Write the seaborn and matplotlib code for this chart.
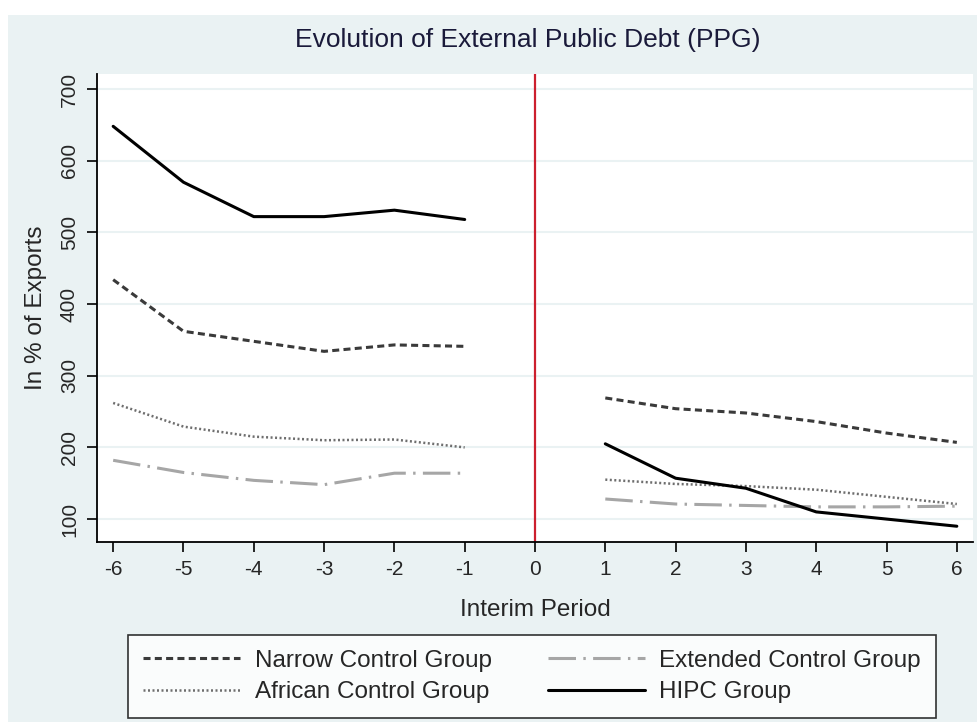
import matplotlib
matplotlib.use("Agg")
import matplotlib.pyplot as plt
from matplotlib.patches import Rectangle
from matplotlib.lines import Line2D
import seaborn as sns
import pandas as pd

periods_pre = [-6, -5, -4, -3, -2, -1]
periods_post = [1, 2, 3, 4, 5, 6]

narrow_pre = [434, 362, 348, 334, 343, 341]
narrow_post = [269, 254, 248, 236, 220, 207]
african_pre = [262, 229, 215, 210, 211, 200]
african_post = [155, 149, 146, 141, 131, 121]
extended_pre = [182, 165, 154, 148, 164, 164]
extended_post = [128, 121, 119, 117, 117, 118]
hipc_pre = [648, 570, 522, 522, 531, 518]
hipc_post = [205, 157, 143, 110, 100, 90]

series_names = ["Narrow Control Group", "African Control Group",
                "Extended Control Group", "HIPC Group"]
yticks = [100, 200, 300, 400, 500, 600, 700]
xticks = [-6, -5, -4, -3, -2, -1, 0, 1, 2, 3, 4, 5, 6]

rows = []
for name, pre, post in [
    (series_names[0], narrow_pre, narrow_post),
    (series_names[1], african_pre, african_post),
    (series_names[2], extended_pre, extended_post),
    (series_names[3], hipc_pre, hipc_post),
]:
    for x, y in zip(periods_pre, pre):
        rows.append({"series": name, "period": x, "value": y, "segment": "pre"})
    for x, y in zip(periods_post, post):
        rows.append({"series": name, "period": x, "value": y, "segment": "post"})
df = pd.DataFrame(rows)

sns.set_style("white")
plt.rcParams["font.family"] = ["Liberation Sans", "DejaVu Sans"]

BG = "#EAF2F3"
colors = {series_names[0]: "#3a3a3a", series_names[1]: "#6e6e6e",
          series_names[2]: "#a6a6a6", series_names[3]: "#000000"}
dashes = {series_names[0]: (2.3, 1.4), series_names[1]: (0.8, 1.0),
          series_names[2]: (9, 2.4, 0.8, 2.4), series_names[3]: ""}
widths = {series_names[0]: 2.2, series_names[1]: 1.8,
          series_names[2]: 2.2, series_names[3]: 2.2}

fig = plt.figure(figsize=(9.78, 7.22), dpi=100, facecolor="white")
fig.patches.append(Rectangle((8 / 978, 0), 1 - 8 / 978, 1 - 15 / 722,
                             transform=fig.transFigure, facecolor=BG,
                             edgecolor="none", zorder=-10))
ax = fig.add_axes([97 / 978, 1 - 542 / 722, (973 - 97) / 978, (542 - 74) / 722])
ax.set_facecolor("white")

sns.lineplot(data=df, x="period", y="value", hue="series", style="series",
             units="segment", estimator=None, palette=colors, dashes=dashes,
             ax=ax, legend=False, linewidth=2.2, sort=True)
for line in ax.get_lines():
    c = matplotlib.colors.to_hex(line.get_color())
    for n, col in colors.items():
        if c == col:
            line.set_linewidth(widths[n])

ax.axvline(0, color="#cc1f2e", linewidth=1.6, zorder=1)

ax.set_xlim(-6.23, 6.23)
ax.set_ylim(68, 721)
ax.set_yticks(yticks)
ax.set_xticks(xticks)
ax.set_yticklabels([str(v) for v in yticks], rotation=90, va="center", fontsize=15)
ax.set_xticklabels([str(v) for v in xticks], fontsize=15)
for yv in yticks:
    ax.axhline(yv, color=BG, linewidth=1.5, zorder=0)
ax.tick_params(axis="both", direction="out", length=7, width=1.2, color="black",
               bottom=True, left=True, pad=6)
for s in ["top", "right"]:
    ax.spines[s].set_visible(False)
for s in ["left", "bottom"]:
    ax.spines[s].set_color("black")
    ax.spines[s].set_linewidth(1.3)

ax.set_xlabel("Interim Period", fontsize=17.5, labelpad=14)
ax.set_ylabel("In % of Exports", fontsize=17.5, labelpad=9)
fig.text(528 / 978, 1 - 40 / 722, "Evolution of External Public Debt (PPG)",
         ha="center", va="center", fontsize=19, color="#1a1a3a")

handles = [Line2D([0], [0], color=colors[n], linewidth=widths[n],
                  dashes=dashes[n] if dashes[n] else (None, None)) for n in series_names]
leg = fig.legend(handles, series_names, ncol=2, loc="center",
                 bbox_to_anchor=(532 / 978, 1 - 676.5 / 722), frameon=True,
                 fontsize=17.5, handlelength=4.0, handletextpad=0.6,
                 columnspacing=2.3, fancybox=False, borderpad=0.6,
                 labelspacing=0.4, borderaxespad=0)
leg.get_frame().set_edgecolor("black")
leg.get_frame().set_linewidth(1.2)

fig.savefig("out.png", dpi=100, facecolor=fig.get_facecolor())
